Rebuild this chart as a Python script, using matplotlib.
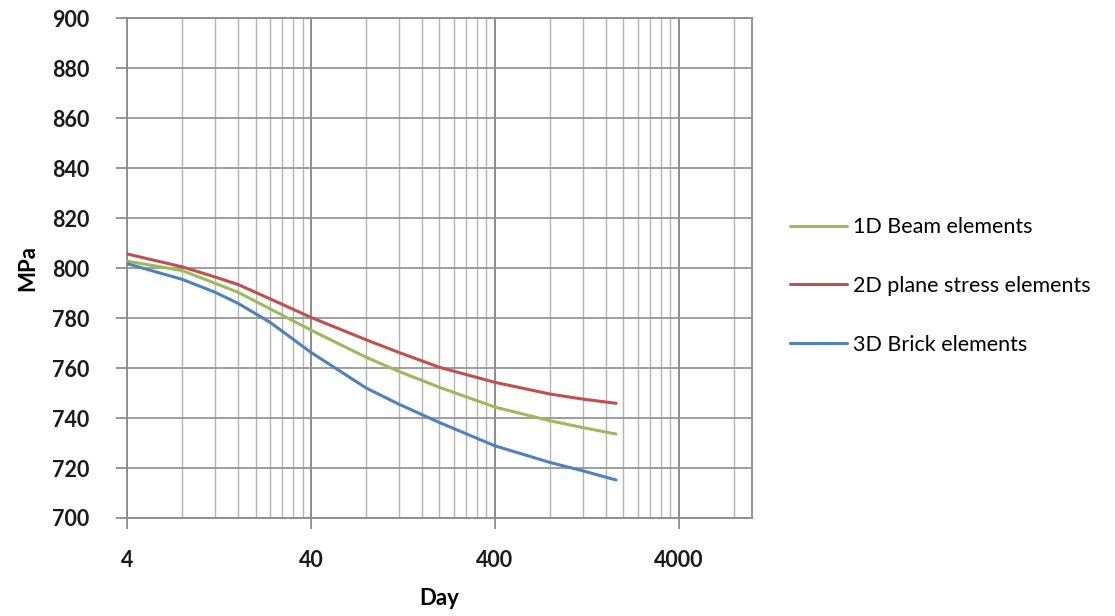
import numpy as np
import matplotlib
matplotlib.use("Agg")
import matplotlib.pyplot as plt
from matplotlib.ticker import FixedLocator, FixedFormatter, NullFormatter

# values (MPa over time in days, log axis)
days = [4, 8, 12, 16, 24, 40, 80, 120, 200, 400, 800, 1200, 1825]
beam_1d = [802.8, 799.0, 794.0, 790.4, 783.7, 775.2, 764.3, 758.7, 752.3, 744.4, 738.9, 736.2, 733.6]
plane_2d = [805.7, 800.5, 796.5, 793.5, 787.7, 780.3, 771.3, 766.3, 760.3, 754.3, 749.6, 747.6, 745.9]
brick_3d = [801.8, 795.5, 790.4, 786.0, 778.3, 766.3, 752.0, 745.6, 738.2, 728.9, 722.2, 718.9, 715.2]
series_names = ["1D Beam elements", "2D plane stress elements", "3D Brick elements"]
series_colors = ["#9BBB59", "#C0504D", "#4F81BD"]

x_major = [4, 40, 400, 4000]
x_minor = [4 * k * 10 ** n for n in range(4) for k in range(2, 10)]
y_ticks = list(range(700, 901, 20))

plt.rcParams['font.family'] = ['Lato', 'DejaVu Sans']

fig = plt.figure(figsize=(11.15, 6.16), dpi=100)
ax = fig.add_axes([0.1139, 0.1591, 0.5605, 0.8112])

for vals, name, col in zip([beam_1d, plane_2d, brick_3d], series_names, series_colors):
    ax.plot(days, vals, color=col, lw=2.2, label=name, solid_capstyle='round',
            solid_joinstyle='round', zorder=3)

ax.set_xscale('log')
ax.set_xlim(4, 10000)
ax.set_ylim(700, 900)

ax.xaxis.set_major_locator(FixedLocator(x_major))
ax.xaxis.set_major_formatter(FixedFormatter([str(v) for v in x_major]))
ax.xaxis.set_minor_locator(FixedLocator([v for v in x_minor if v < 10000]))
ax.xaxis.set_minor_formatter(NullFormatter())
ax.yaxis.set_major_locator(FixedLocator(y_ticks))

ax.grid(True, which='major', axis='x', color='#8c8c8c', lw=1.4, zorder=1)
ax.grid(True, which='minor', axis='x', color='#b4b4b4', lw=1.0, zorder=1)
ax.grid(True, which='major', axis='y', color='#969696', lw=1.3, zorder=1)
ax.set_axisbelow(True)

for s in ax.spines.values():
    s.set_color('#8c8c8c')
    s.set_linewidth(1.3)

ax.tick_params(axis='x', which='major', length=8, width=1.3, color='#8c8c8c',
               pad=15, labelsize=15.5)
ax.tick_params(axis='x', which='minor', length=0)
ax.tick_params(axis='y', which='major', length=8, width=1.3, color='#8c8c8c',
               pad=19, labelsize=15.5)
for lab in ax.get_xticklabels() + ax.get_yticklabels():
    lab.set_fontweight('bold')
    lab.set_color('#1a1a1a')

ax.set_xlabel('Day', fontsize=16, fontweight='bold', labelpad=12)
ax.set_ylabel('MPa', fontsize=16, fontweight='bold', labelpad=10)

fig.legend(loc='upper left', bbox_to_anchor=(0.691, 0.679), frameon=False,
           fontsize=15.5, handlelength=2.65, handletextpad=0.3, labelspacing=1.8)

fig.savefig('out.png', dpi=100)
